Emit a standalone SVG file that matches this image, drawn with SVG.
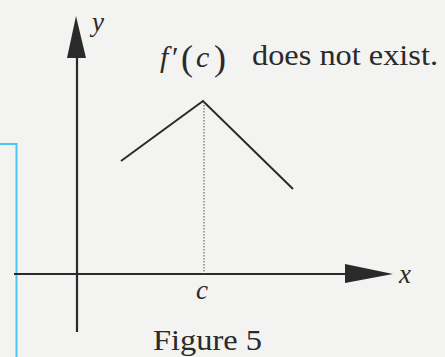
<svg xmlns="http://www.w3.org/2000/svg" width="445" height="357" viewBox="0 0 445 357">
<style>
.ax{stroke:#2a2a2a;stroke-width:2.2;fill:none}
.fn{stroke:#2a2a2a;stroke-width:2;fill:none}
.dot{stroke:#555;stroke-width:1;stroke-dasharray:1.5 1.5;fill:none}
.t{font-family:'Liberation Serif','Times New Roman',Times,serif;fill:#2a2a2a}
.i{font-style:italic}
</style>
<rect width="445" height="357" fill="#f3f3f1"/>
<g id="border">
<polyline points="0,144 16.5,144 16.5,357" fill="none" stroke="#4cc4f4" stroke-width="2"/>
</g>
<g id="connectors">
<line class="ax" x1="77" y1="50" x2="77" y2="332"/>
<polygon points="76,16 67,58 86,58" fill="#2a2a2a"/>
<line class="ax" x1="14" y1="274" x2="350" y2="274"/>
<polygon points="393,274 345,264 345,283" fill="#2a2a2a"/>
<polyline class="fn" points="121,161 203,101 293,189"/>
<line class="dot" x1="204" y1="102" x2="204" y2="274"/>
</g>
<g id="labels">
<text class="t i" x="92" y="31" font-size="27">y</text>
<text class="t i" x="399" y="283" font-size="27">x</text>
<text class="t i" x="196" y="299" font-size="27">c</text>
<text class="t i" x="160" y="67" font-size="30">f</text>
<text class="t" x="172" y="67" font-size="30">′</text>
<text class="t" x="181" y="70" font-size="36">(</text>
<text class="t i" x="196" y="67" font-size="30">c</text>
<text class="t" x="214" y="70" font-size="36">)</text>
<text class="t" x="252" y="65" font-size="29" textLength="186" lengthAdjust="spacingAndGlyphs">does not exist.</text>
<text class="t" x="153" y="350" font-size="29" textLength="109" lengthAdjust="spacingAndGlyphs">Figure 5</text>
</g>
</svg>
